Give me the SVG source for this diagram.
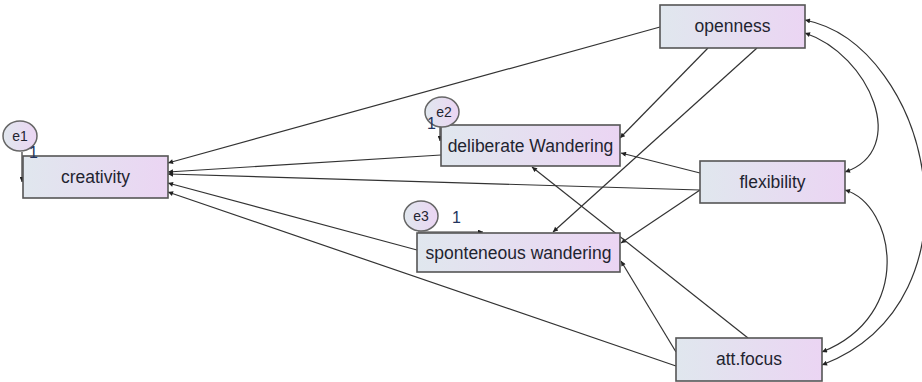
<svg xmlns="http://www.w3.org/2000/svg" width="922" height="382" viewBox="0 0 922 382">
<style>
.box{fill:url(#g);stroke:#555;stroke-width:1.6}
.err{fill:url(#g);stroke:#666;stroke-width:1.5}
.lbl{font-family:"Liberation Sans",Arial,sans-serif;font-size:17.5px;fill:#1f2430;text-anchor:middle}
.elbl{font-family:"Liberation Sans",Arial,sans-serif;font-size:14px;fill:#1f2430;text-anchor:middle}
.one{font-family:"Liberation Sans",Arial,sans-serif;font-size:16px;fill:#22345e}
.c{fill:none;stroke:#333;stroke-width:1.2;marker-end:url(#ah)}
.d{fill:none;stroke:#333;stroke-width:1.2;marker-start:url(#ah);marker-end:url(#ah)}
</style>
<defs>
<linearGradient id="g" x1="0" y1="0" x2="1" y2="0">
<stop offset="0" stop-color="#e0e7ee"/>
<stop offset="1" stop-color="#ebd5f3"/>
</linearGradient>
<marker id="ah" viewBox="0 0 10 10" refX="10" refY="5" markerWidth="7" markerHeight="5" markerUnits="userSpaceOnUse" orient="auto-start-reverse">
<path d="M0,0 L10,5 L0,10 z" fill="#222"/>
</marker>
</defs>
<g id="connectors">
<line class="c" x1="660" y1="27" x2="168" y2="163"/>
<line class="c" x1="441" y1="155" x2="168" y2="172"/>
<line class="c" x1="700" y1="190" x2="168" y2="174"/>
<line class="c" x1="417" y1="250" x2="168" y2="183"/>
<line class="c" x1="676" y1="366" x2="168" y2="192"/>
<line class="c" x1="708" y1="48" x2="620" y2="138"/>
<line class="c" x1="757" y1="48" x2="553" y2="232"/>
<line class="c" x1="700" y1="173" x2="621" y2="153"/>
<line class="c" x1="700" y1="190" x2="621" y2="243"/>
<line class="c" x1="748" y1="338" x2="532" y2="167"/>
<line class="c" x1="676" y1="352" x2="621" y2="261"/>
<path class="d" d="M805,33 C870,55 910,150 845,172"/>
<path class="d" d="M805,20 C930,45 990,300 822,365"/>
<path class="d" d="M845,190 C895,205 915,315 822,352"/>
<line class="c" x1="22" y1="152" x2="22" y2="182"/>
<line class="c" x1="440" y1="127" x2="440" y2="141"/>
<line class="c" x1="418" y1="232" x2="483" y2="232"/>
</g>
<g id="creativity">
<rect class="box" x="23" y="156" width="145" height="42"/>
<text class="lbl" x="95.5" y="183">creativity</text>
</g>
<g id="e1">
<ellipse class="err" cx="20" cy="136" rx="17" ry="15"/>
<text class="elbl" x="20" y="141">e1</text>
<text class="one" x="29" y="158" font-size="13" fill="#2a55a8">1</text>
</g>
<g id="deliberate">
<rect class="box" x="441" y="125" width="179" height="41"/>
<text class="lbl" x="530.5" y="152">deliberate Wandering</text>
</g>
<g id="e2">
<ellipse class="err" cx="442" cy="112" rx="17" ry="15"/>
<text class="elbl" x="444" y="117">e2</text>
<text class="one" x="427" y="129" font-size="13">1</text>
</g>
<g id="spontaneous">
<rect class="box" x="417" y="233" width="203" height="39"/>
<text class="lbl" x="518.5" y="259">sponteneous wandering</text>
</g>
<g id="e3">
<ellipse class="err" cx="421" cy="216" rx="17" ry="15"/>
<text class="elbl" x="421" y="221">e3</text>
<text class="one" x="452" y="223">1</text>
</g>
<g id="openness">
<rect class="box" x="660" y="5" width="145" height="43"/>
<text class="lbl" x="732.5" y="32">openness</text>
</g>
<g id="flexibility">
<rect class="box" x="700" y="161" width="145" height="42"/>
<text class="lbl" x="772.5" y="188">flexibility</text>
</g>
<g id="attfocus">
<rect class="box" x="676" y="338" width="146" height="43"/>
<text class="lbl" x="749" y="365">att.focus</text>
</g>
</svg>
